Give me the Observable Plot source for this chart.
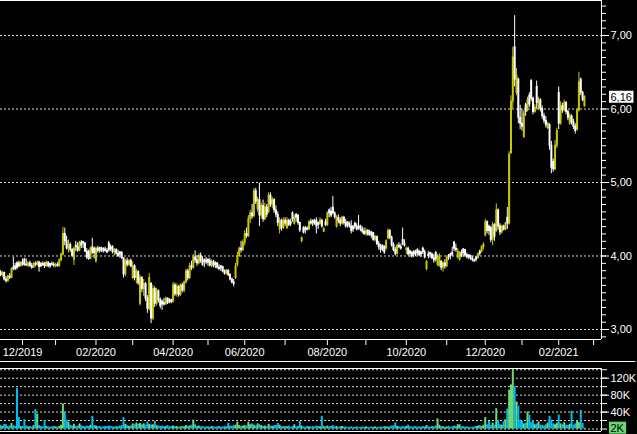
<!DOCTYPE html>
<html><head><meta charset="utf-8">
<script src="https://cdn.jsdelivr.net/npm/d3@7"></script>
<script src="https://cdn.jsdelivr.net/npm/@observablehq/plot@0.6"></script>
<style>
html,body{margin:0;padding:0;background:#000;}
#chart{width:637px;height:434px;position:relative;background:#000;overflow:hidden;}
#chart svg{display:block;position:absolute;left:0;}
#sep{position:absolute;left:0;top:361px;width:637px;height:1px;background:#fff;}
#edge{position:absolute;left:635px;top:0;width:2px;height:434px;background:#3c3c3c;}
</style></head><body><div id="chart"><div id="sep"></div><div id="edge"></div></div>
<script>
// Daily candles [open, high, low, close], one array per month (trading days)
const nov2019 = [[3.78,3.80,3.72,3.74],[3.74,3.79,3.71,3.77],[3.77,3.78,3.66,3.68],[3.68,3.72,3.63,3.66],[3.66,3.74,3.64,3.72],[3.72,3.76,3.68,3.70],[3.70,3.84,3.69,3.82],[3.84,3.98,3.80,3.82],[3.86,3.90,3.80,3.82],[3.90,3.92,3.81,3.84],[3.90,3.93,3.84,3.86],[3.86,3.92,3.85,3.91]];
const dec2019 = [[3.91,3.96,3.86,3.88],[3.95,3.97,3.86,3.88],[3.88,3.96,3.86,3.87],[3.87,3.92,3.84,3.90],[3.90,3.93,3.85,3.86],[3.86,3.90,3.82,3.84],[3.84,3.91,3.83,3.89],[3.89,3.92,3.85,3.88],[3.88,3.93,3.86,3.91],[3.91,3.93,3.78,3.85],[3.89,3.91,3.84,3.86],[3.89,3.92,3.86,3.87],[3.90,3.91,3.83,3.86],[3.86,3.93,3.85,3.91],[3.91,3.92,3.84,3.86],[3.89,3.90,3.83,3.86],[3.89,3.92,3.86,3.88],[3.88,3.91,3.84,3.87]];
const jan2020 = [[3.87,3.90,3.84,3.88],[3.88,3.91,3.85,3.86],[3.86,3.96,3.85,3.94],[3.94,4.04,3.92,4.02],[4.02,4.39,4.00,4.30],[4.30,4.38,4.14,4.20],[4.20,4.27,4.08,4.10],[4.10,4.22,4.04,4.15],[4.15,4.18,4.05,4.08],[4.08,4.10,3.98,4.00],[3.95,4.12,3.87,4.10],[4.14,4.20,4.06,4.12],[4.12,4.18,4.05,4.07],[4.07,4.20,4.06,4.18],[4.18,4.21,4.10,4.14],[4.19,4.20,4.10,4.17],[4.17,4.18,4.05,4.06],[4.06,4.10,3.95,3.98],[4.05,4.08,3.94,3.96],[3.96,4.12,3.95,4.10],[4.12,4.24,4.02,4.05],[4.10,4.12,3.96,4.04]];
const feb2020 = [[3.93,4.12,3.90,4.10],[4.10,4.13,4.04,4.07],[4.11,4.12,4.04,4.08],[4.10,4.12,4.05,4.06],[4.10,4.11,4.04,4.07],[4.09,4.12,4.05,4.07],[4.07,4.10,4.03,4.05],[4.17,4.20,4.05,4.08],[4.12,4.15,4.06,4.09],[4.12,4.14,4.03,4.05],[4.05,4.10,4.00,4.08],[4.08,4.10,4.01,4.03],[4.03,4.08,3.98,4.00],[4.05,4.06,3.97,4.02],[4.04,4.06,3.95,3.97],[3.97,3.98,3.70,3.75],[3.75,3.96,3.72,3.93],[3.93,3.97,3.85,3.88],[3.88,3.95,3.86,3.93],[3.93,3.96,3.84,3.86]];
const mar2020 = [[3.70,3.92,3.68,3.86],[3.86,3.88,3.66,3.70],[3.70,3.82,3.62,3.78],[3.78,3.80,3.60,3.63],[3.35,3.74,3.32,3.70],[3.70,3.72,3.50,3.55],[3.55,3.68,3.45,3.62],[3.62,3.64,3.38,3.42],[3.42,3.46,3.22,3.28],[3.28,3.76,3.25,3.70],[3.62,3.64,3.08,3.15],[3.15,3.60,3.12,3.55],[3.55,3.58,3.30,3.35],[3.35,3.56,3.32,3.52],[3.52,3.54,3.36,3.40],[3.40,3.43,3.28,3.32],[3.38,3.40,3.26,3.34],[3.36,3.42,3.32,3.34],[3.34,3.44,3.33,3.42],[3.42,3.43,3.34,3.36],[3.40,3.42,3.35,3.38],[3.40,3.41,3.35,3.37]];
const apr2020 = [[3.38,3.64,3.36,3.60],[3.60,3.63,3.45,3.48],[3.48,3.62,3.44,3.58],[3.58,3.60,3.44,3.47],[3.47,3.62,3.45,3.60],[3.60,3.63,3.50,3.53],[3.53,3.66,3.50,3.64],[3.64,3.82,3.62,3.79],[3.79,3.82,3.66,3.70],[3.70,3.90,3.68,3.86],[3.86,3.93,3.80,3.84],[3.84,4.02,3.82,3.98],[3.98,4.07,3.90,3.94],[3.94,4.00,3.86,3.90],[3.90,4.03,3.88,4.00],[4.00,4.04,3.90,3.93],[3.93,3.99,3.86,3.88],[3.95,3.96,3.84,3.92],[3.94,3.98,3.88,3.91]];
const may2020 = [[3.95,3.96,3.86,3.91],[3.93,3.97,3.85,3.87],[3.87,3.95,3.84,3.92],[3.92,3.94,3.84,3.86],[3.90,3.92,3.83,3.88],[3.90,3.91,3.82,3.84],[3.84,3.88,3.80,3.82],[3.86,3.87,3.79,3.83],[3.85,3.86,3.77,3.79],[3.79,3.81,3.74,3.76],[3.76,3.82,3.74,3.80],[3.80,3.81,3.72,3.74],[3.74,3.76,3.66,3.68],[3.68,3.70,3.62,3.64],[3.64,3.68,3.58,3.62],[3.70,3.90,3.68,3.86],[3.88,4.05,3.85,4.00],[4.00,4.12,3.98,4.10],[4.10,4.20,4.04,4.08],[4.08,4.22,4.06,4.18]];
const jun2020 = [[4.18,4.35,4.14,4.30],[4.30,4.38,4.24,4.27],[4.27,4.55,4.25,4.50],[4.50,4.62,4.44,4.58],[4.58,4.70,4.50,4.54],[4.54,4.92,4.52,4.88],[4.88,4.92,4.70,4.74],[4.64,4.80,4.60,4.76],[4.76,4.99,4.40,4.55],[4.55,4.72,4.50,4.68],[4.68,4.76,4.46,4.50],[4.50,4.72,4.48,4.66],[4.66,4.70,4.52,4.56],[4.60,4.86,4.58,4.82],[4.82,4.86,4.66,4.70],[4.70,4.80,4.64,4.76],[4.76,4.78,4.58,4.62],[4.62,4.68,4.52,4.56],[4.56,4.60,4.40,4.45],[4.36,4.52,4.30,4.48],[4.48,4.50,4.34,4.38],[4.38,4.52,4.36,4.48]];
const jul2020 = [[4.48,4.52,4.40,4.44],[4.38,4.52,4.36,4.48],[4.48,4.50,4.40,4.42],[4.46,4.50,4.40,4.44],[4.58,4.60,4.46,4.50],[4.44,4.56,4.42,4.52],[4.56,4.58,4.46,4.52],[4.55,4.56,4.42,4.45],[4.45,4.46,4.32,4.35],[4.20,4.26,4.18,4.24],[4.38,4.40,4.30,4.32],[4.38,4.40,4.30,4.35],[4.37,4.40,4.34,4.36],[4.36,4.48,4.35,4.46],[4.46,4.50,4.42,4.44],[4.48,4.49,4.40,4.45],[4.47,4.50,4.42,4.43],[4.48,4.52,4.30,4.40],[4.45,4.46,4.36,4.42],[4.44,4.52,4.42,4.48],[4.48,4.50,4.38,4.40],[4.33,4.38,4.32,4.37],[4.46,4.50,4.40,4.42]];
const aug2020 = [[4.42,4.60,4.40,4.58],[4.62,4.64,4.52,4.58],[4.60,4.66,4.52,4.55],[4.66,4.81,4.56,4.58],[4.58,4.60,4.50,4.53],[4.40,4.55,4.38,4.52],[4.52,4.56,4.44,4.48],[4.48,4.52,4.40,4.44],[4.44,4.54,4.42,4.52],[4.52,4.54,4.42,4.45],[4.45,4.50,4.38,4.40],[4.46,4.47,4.38,4.42],[4.44,4.46,4.38,4.40],[4.40,4.48,4.30,4.34],[4.40,4.41,4.32,4.36],[4.44,4.46,4.36,4.40],[4.40,4.44,4.34,4.36],[4.40,4.55,4.35,4.38],[4.40,4.42,4.33,4.36],[4.36,4.40,4.30,4.33],[4.33,4.38,4.28,4.30]];
const sep2020 = [[4.30,4.38,4.27,4.34],[4.34,4.36,4.27,4.29],[4.33,4.35,4.27,4.28],[4.32,4.33,4.24,4.28],[4.31,4.32,4.20,4.22],[4.22,4.28,4.19,4.26],[4.26,4.27,4.14,4.16],[4.16,4.20,4.08,4.12],[4.12,4.16,4.04,4.08],[4.14,4.15,4.06,4.10],[4.12,4.14,4.02,4.05],[4.10,4.22,4.08,4.20],[4.24,4.37,4.22,4.34],[4.34,4.36,4.22,4.25],[4.25,4.27,4.12,4.15],[4.15,4.18,4.06,4.08],[4.08,4.12,4.00,4.03],[4.03,4.16,4.01,4.14],[4.14,4.18,4.10,4.12],[4.12,4.16,4.08,4.10],[4.22,4.38,4.14,4.16],[4.16,4.22,4.12,4.14]];
const oct2020 = [[4.08,4.12,4.02,4.10],[4.10,4.12,4.00,4.02],[4.06,4.08,3.98,4.03],[4.04,4.06,3.97,4.00],[4.06,4.07,3.98,4.02],[4.05,4.08,3.99,4.02],[4.08,4.10,4.00,4.04],[4.06,4.08,3.99,4.01],[4.05,4.06,3.98,4.02],[4.10,4.12,4.02,4.05],[4.05,4.08,3.96,3.98],[3.82,3.94,3.80,3.92],[4.02,4.06,3.96,4.00],[4.04,4.05,3.97,4.02],[4.02,4.04,3.95,3.97],[3.97,4.02,3.90,3.94],[4.04,4.06,3.92,3.96],[3.88,4.02,3.86,3.99],[3.86,4.03,3.85,4.00],[3.92,3.94,3.80,3.84],[3.84,3.92,3.78,3.90],[3.90,3.95,3.82,3.86]];
const nov2020 = [[3.86,4.00,3.84,3.97],[4.00,4.02,3.94,3.98],[4.02,4.04,3.95,4.00],[4.04,4.12,3.99,4.02],[4.18,4.20,4.06,4.10],[4.10,4.16,4.05,4.08],[3.98,4.10,3.96,4.06],[3.95,4.06,3.93,4.04],[4.04,4.08,3.98,4.00],[4.09,4.10,3.98,4.04],[4.08,4.09,3.99,4.01],[4.01,4.04,3.96,3.98],[4.01,4.02,3.95,3.98],[4.00,4.01,3.94,3.96],[3.96,3.99,3.92,3.94],[3.94,3.96,3.91,3.93],[3.98,3.99,3.92,3.95],[3.97,4.04,3.96,4.02],[4.06,4.08,4.00,4.03],[4.06,4.14,4.04,4.12],[4.12,4.18,4.08,4.15]];
const dec2020 = [[4.28,4.50,4.26,4.46],[4.46,4.48,4.30,4.34],[4.40,4.42,4.28,4.34],[4.38,4.40,4.18,4.22],[4.22,4.46,4.14,4.42],[4.42,4.44,4.20,4.26],[4.34,4.71,4.32,4.62],[4.62,4.64,4.35,4.40],[4.40,4.44,4.28,4.32],[4.32,4.42,4.30,4.40],[4.40,4.42,4.34,4.36],[4.36,4.46,4.34,4.44],[4.52,4.66,4.36,4.44],[4.44,5.42,4.42,5.38],[5.40,6.18,5.38,6.10],[6.10,6.84,6.00,6.70],[6.84,7.27,6.30,6.40],[6.22,6.55,6.18,6.45],[6.40,6.42,5.80,5.88],[5.88,6.05,5.72,5.80]];
const jan2021 = [[5.80,6.00,5.70,5.76],[5.62,5.98,5.60,5.94],[6.05,6.08,5.90,5.96],[5.98,6.16,5.96,6.12],[6.18,6.22,6.02,6.06],[6.38,6.40,6.10,6.14],[6.14,6.16,5.92,5.96],[5.96,6.06,5.94,6.02],[6.30,6.38,6.00,6.08],[6.00,6.16,5.98,6.12],[6.12,6.14,5.96,6.00],[6.00,6.04,5.86,5.90],[5.90,5.94,5.80,5.84],[5.84,5.90,5.74,5.78],[5.74,5.82,5.72,5.80],[5.78,5.80,5.44,5.50],[5.50,5.56,5.12,5.20],[5.28,5.32,5.14,5.18],[5.18,5.57,5.16,5.50],[5.50,5.74,5.46,5.70]];
const feb2021 = [[6.22,6.30,5.72,5.80],[5.80,6.10,5.78,6.04],[6.04,6.08,5.94,5.98],[5.98,6.12,5.96,6.08],[6.08,6.10,5.92,5.96],[5.96,5.98,5.84,5.88],[5.80,5.94,5.78,5.90],[5.90,5.92,5.78,5.82],[5.82,5.86,5.72,5.76],[5.76,5.80,5.66,5.70],[5.72,6.00,5.70,5.98],[5.98,6.50,5.96,6.36],[6.40,6.42,6.18,6.22],[6.22,6.24,6.10,6.12],[6.04,6.18,6.02,6.16]];

// Daily volume in thousands, one array per month
const volNov2019 = [9,6,11,10,5,7,13,8,6,96,27,6];
const volDec2019 = [6,22,7,5,6,4,8,46,35,8,6,5,20,6,5,4,5,6];
const volJan2020 = [5,4,6,9,59,40,21,16,9,7,11,6,7,12,8,6,5,7,6,9,30,8];
const volFeb2020 = [7,5,6,4,5,6,5,7,6,5,4,6,5,7,8,27,11,8,6,7];
const volMar2020 = [12,10,14,11,13,10,12,9,17,11,9,10,18,8,7,6,7,5,6,8,5,6];
const volApr2020 = [7,5,6,4,5,6,5,8,6,7,9,21,10,6,7,5,6,4,5];
const volMay2020 = [5,4,6,5,4,5,6,4,5,6,5,13,7,6,8,9,16,8,6,7];
const volJun2020 = [8,7,16,10,12,9,7,12,10,8,6,7,5,11,7,6,8,8,13,9,6,5];
const volJul2020 = [6,5,7,4,6,10,5,6,18,7,5,4,6,5,4,6,5,7,6,5,30,6,5];
const volAug2020 = [7,5,6,8,5,6,4,5,6,4,5,3,4,5,3,4,5,3,4,5,4];
const volSep2020 = [5,4,3,5,4,5,3,4,5,4,6,5,4,5,7,8,14,6,5,4,6,5];
const volOct2020 = [6,9,5,4,5,6,4,5,4,6,5,8,5,4,6,5,7,24,9,6,5,4];
const volNov2020 = [5,6,4,5,7,6,10,10,5,6,4,5,4,3,4,5,6,7,8,6,9];
const volDec2020 = [27,10,18,8,14,9,48,20,10,9,17,22,47,92,104,141,100,64,54,21];
const volJan2021 = [18,12,14,40,33,15,20,10,12,17,9,8,7,10,14,30,21,12,10,14];
const volFeb2021 = [33,12,10,15,9,8,11,42,9,12,20,15,44,13,2];

// Trading days per month (Nov 2019 partial .. Feb 2021) and month-start tick labels
const monthDays = [12,18,22,20,22,19,20,22,23,21,22,22,21,20,20,19];
const xTickLabels = ["12/2019","","02/2020","","04/2020","","06/2020","","08/2020","","10/2020","","12/2020","","02/2021",""];
const priceTicks = [3,4,5,6,7];
const priceMinorTicks = d3.range(29,75).map(k => k/10);
const volGridTicks = [0,20,40,60,80,100,120,140];
const volLabelTicks = [40,80,120];

const months = [nov2019,dec2019,jan2020,feb2020,mar2020,apr2020,may2020,jun2020,jul2020,aug2020,sep2020,oct2020,nov2020,dec2020,jan2021,feb2021];
const volMonths = [volNov2019,volDec2019,volJan2020,volFeb2020,volMar2020,volApr2020,volMay2020,volJun2020,volJul2020,volAug2020,volSep2020,volOct2020,volNov2020,volDec2020,volJan2021,volFeb2021];
const vols = volMonths.flat();
const candles = months.flat().map(([o,h,l,c], i) => ({i, o, h, l, c, v: vols[i], up: c >= o}));
const upCandles = candles.filter(d => d.up);
const downCandles = candles.filter(d => !d.up);
const last = candles[candles.length - 1];
const monthStarts = Array.from(d3.cumsum(monthDays));
const tickLabel = new Map(monthStarts.map((d, k) => [d, xTickLabels[k]]));

const YELLOW = "#c8c800", WHITE = "#ffffff", CYAN = "#00bdf0", GREEN = "#6ad877";
const W = 637;
const xDomain = [0, 327.3];
const fmtPrice = d => d.toFixed(2).replace(".", ",");
const baseStyle = {background: "#000", color: "#fff", fontFamily: "'Liberation Sans', Arial, sans-serif", fontSize: "11px", overflow: "visible"};

function candleMarks(data, color) {
  return [
    Plot.ruleX(data, {x: "i", y1: "l", y2: "h", stroke: color, strokeWidth: 1}),
    Plot.ruleX(data, {x: "i", y1: d => Math.min(d.o, d.c) - 0.006, y2: d => Math.max(d.o, d.c) + 0.006, stroke: color, strokeWidth: 2})
  ];
}

const yDomain = [2.864, 7.476];
const main = Plot.plot({
  width: W, height: 361,
  marginLeft: 0, marginRight: 36, marginTop: 0, marginBottom: 22,
  style: baseStyle,
  x: {domain: xDomain, axis: null},
  y: {domain: yDomain, axis: null},
  marks: [
    Plot.ruleY(priceTicks, {stroke: "#d8d8d8", strokeDasharray: "2,2"}),
    ...candleMarks(upCandles, YELLOW),
    ...candleMarks(downCandles, WHITE),
    Plot.ruleY([yDomain[1], yDomain[0]], {stroke: "#fff"}),
    Plot.ruleX([xDomain[1]], {stroke: "#fff"}),
    Plot.axisY({anchor: "right", label: null, ticks: priceMinorTicks, tickSize: 4, tickFormat: () => "", stroke: "#fff"}),
    Plot.axisY({anchor: "right", label: null, ticks: priceTicks, tickSize: 7, tickPadding: 2, tickFormat: fmtPrice, stroke: "#fff", fill: "#fff"}),
    Plot.axisX({anchor: "bottom", label: null, ticks: monthStarts, tickSize: 6, tickPadding: 3, tickFormat: d => tickLabel.get(d) ?? "", stroke: "#fff", fill: "#fff"}),
    Plot.text([last], {y: "c", frameAnchor: "right", dx: 9, textAnchor: "start", text: d => fmtPrice(d.c), fill: "#000"})
  ]
});

const vDomain = [-5.9, 142.9];
const volume = Plot.plot({
  width: W, height: 72,
  marginLeft: 0, marginRight: 36, marginTop: 6, marginBottom: 3,
  style: baseStyle,
  x: {domain: xDomain, axis: null},
  y: {domain: vDomain, axis: null},
  marks: [
    Plot.ruleY(volGridTicks, {stroke: "#d8d8d8", strokeDasharray: "2,2"}),
    Plot.ruleX(candles, {x: "i", y1: 0, y2: "v", stroke: d => d.up ? GREEN : CYAN, strokeWidth: 2}),
    Plot.ruleY([vDomain[1], vDomain[0]], {stroke: "#fff"}),
    Plot.ruleX([xDomain[1]], {stroke: "#fff"}),
    Plot.axisY({anchor: "right", label: null, ticks: volGridTicks, tickSize: 5, tickFormat: () => "", stroke: "#fff"}),
    Plot.axisY({anchor: "right", label: null, ticks: volLabelTicks, tickSize: 7, tickPadding: 2, tickFormat: d => d + "K", stroke: "#fff", fill: "#fff"}),
    Plot.text([last], {y: "v", frameAnchor: "right", dx: 9, textAnchor: "start", text: d => d.v + "K", fill: "#000"})
  ]
});

const chart = document.getElementById("chart");
main.style.top = "0px";
volume.style.top = "362px";
chart.appendChild(main);
chart.appendChild(volume);

function boxLabel(svg, label, fill) {
  svg.querySelectorAll("text").forEach(t => {
    if (t.textContent !== label) return;
    const b = t.getBBox();
    const r = document.createElementNS("http://www.w3.org/2000/svg", "rect");
    r.setAttribute("x", b.x - 1.5);
    r.setAttribute("y", b.y);
    r.setAttribute("width", b.width + 3);
    r.setAttribute("height", b.height);
    const tr = t.getAttribute("transform");
    if (tr) r.setAttribute("transform", tr);
    r.setAttribute("fill", fill);
    t.parentNode.insertBefore(r, t);
  });
}
boxLabel(main, fmtPrice(last.c), "#fff");
boxLabel(volume, last.v + "K", GREEN);
</script></body></html>
